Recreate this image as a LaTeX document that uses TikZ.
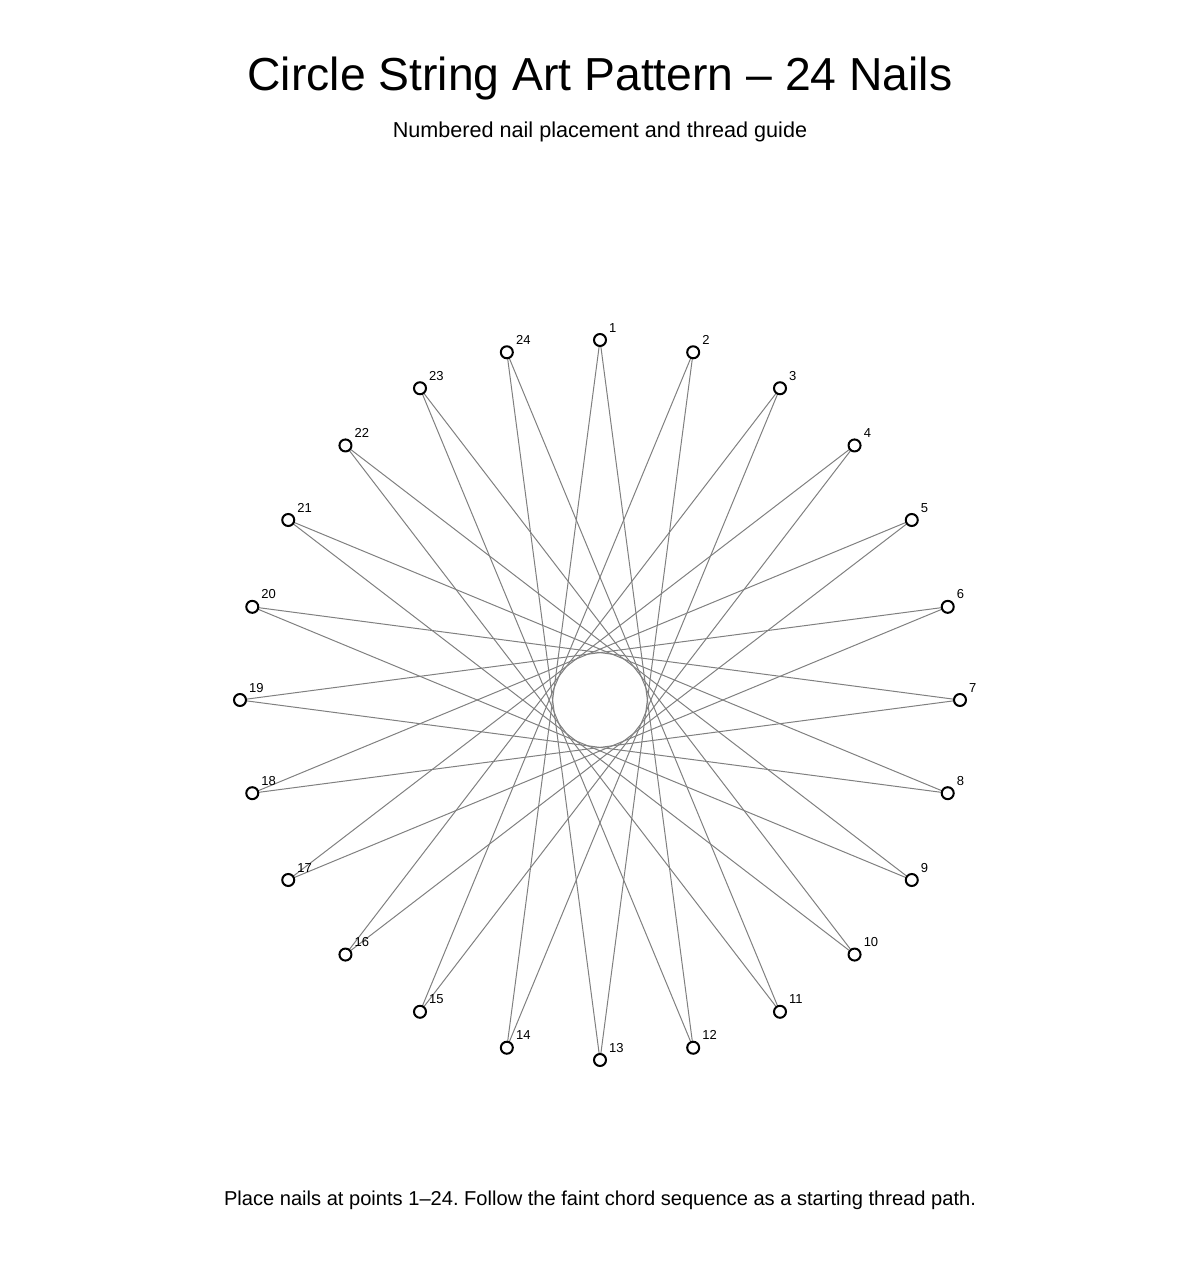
\documentclass[tikz,border=0pt]{standalone}
\usepackage{fontspec}
\setmainfont{Liberation Sans}
\frenchspacing
\begin{document}
\begin{tikzpicture}[x=1pt,y=-1pt,
  nail/.style={circle,draw=black,line width=2pt,fill=white,minimum size=12pt,inner sep=0pt},
  chord/.style={draw=black!50,line width=1pt},
  nlabel/.style={font=\fontsize{13}{15}\selectfont,inner sep=0pt},
  title/.style={font=\fontsize{46.3}{54}\selectfont,inner sep=0pt},
  subtitle/.style={font=\fontsize{21.6}{25}\selectfont,inner sep=0pt},
  footer/.style={font=\fontsize{20.1}{24}\selectfont,inner sep=0pt}]
\useasboundingbox (0,0) rectangle (1200,1280);
\node[title] (t) at (600,79) {Circle String Art Pattern – 24 Nails};
\node[subtitle] (s) at (600,132) {Numbered nail placement and thread guide};
\node[footer] (f) at (600,1200) {Place nails at points 1–24. Follow the faint chord sequence as a starting thread path.};
\foreach \k in {1,...,24}{
  \pgfmathsetmacro{\ang}{90-(\k-1)*15}
  \coordinate (c\k) at ({600+360*cos(\ang)},{700-360*sin(\ang)});
}
\foreach \k in {1,...,24}{
  \pgfmathtruncatemacro{\j}{mod(\k+10,24)+1}
  \draw[chord] (c\k) -- (c\j);
}
\foreach \k in {1,...,24}{
  \node[nail] (n\k) at (c\k) {};
  \node[nlabel,anchor=base west] (l\k) at ([shift={(9,-8)}]c\k) {\k};
}
\end{tikzpicture}
\end{document}
